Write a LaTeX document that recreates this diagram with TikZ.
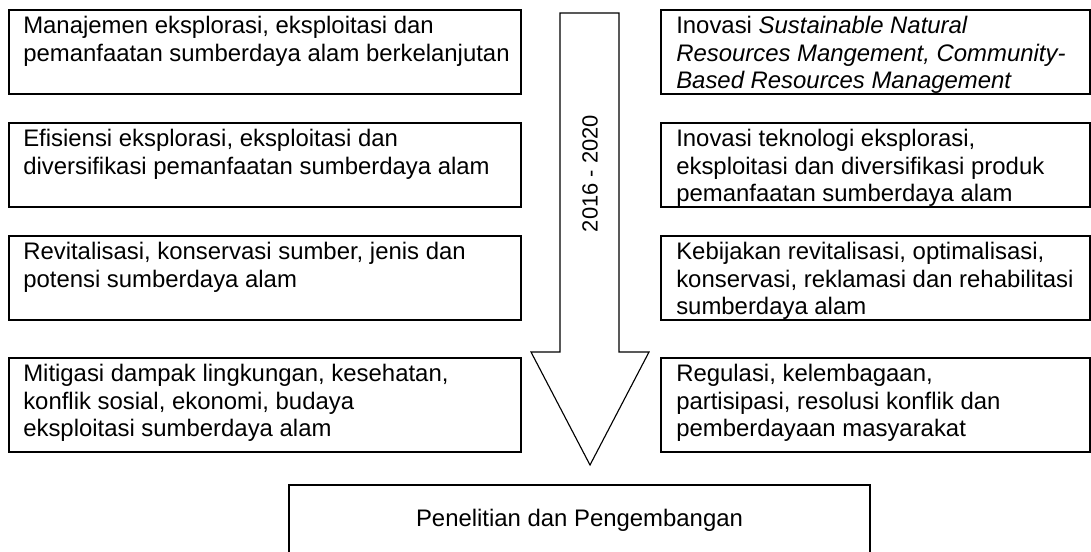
\documentclass[tikz,border=0pt]{standalone}
\usepackage{fontspec}
\setmainfont{Liberation Sans}
\begin{document}
\begin{tikzpicture}[x=0.025cm, y=-0.025cm,
    lbox/.style = {draw, line width=1.4pt, anchor=north west, inner sep=0,
                   minimum width=12.8cm, minimum height=2.1cm},
    rbox/.style = {lbox, minimum width=10.725cm},
    btext/.style = {anchor=north west, inner sep=0, align=left,
                    font=\fontsize{17}{19.5}\selectfont}]
    \useasboundingbox (0,0) rectangle (1091,552);
    % left column
    \node[lbox] (l1) at (8,9) {};
    \node[lbox] (l2) at (8,122) {};
    \node[lbox] (l3) at (8,235) {};
    \node[lbox, minimum height=2.35cm] (l4) at (8,357) {};
    \node[btext] (tl1) at ([shift={(15,7)}]l1.north west) {Manajemen eksplorasi, eksploitasi dan\\pemanfaatan sumberdaya alam berkelanjutan};
    \node[btext] (tl2) at ([shift={(15,7)}]l2.north west) {Efisiensi eksplorasi, eksploitasi dan\\diversifikasi pemanfaatan sumberdaya alam};
    \node[btext] (tl3) at ([shift={(15,7)}]l3.north west) {Revitalisasi, konservasi sumber, jenis dan\\potensi sumberdaya alam};
    \node[btext] (tl4) at ([shift={(15,7)}]l4.north west) {Mitigasi dampak lingkungan, kesehatan,\\konflik sosial, ekonomi, budaya\\eksploitasi sumberdaya alam};
    % right column
    \node[rbox] (r1) at (660,9) {};
    \node[rbox] (r2) at (660,122) {};
    \node[rbox] (r3) at (660,235) {};
    \node[rbox, minimum height=2.35cm] (r4) at (660,357) {};
    \node[btext] (tr1) at ([shift={(16,7)}]r1.north west) {Inovasi \textit{Sustainable Natural}\\\textit{Resources Mangement, Community-}\\\textit{Based Resources Management}};
    \node[btext] (tr2) at ([shift={(16,7)}]r2.north west) {Inovasi teknologi eksplorasi,\\eksploitasi dan diversifikasi produk\\pemanfaatan sumberdaya alam};
    \node[btext] (tr3) at ([shift={(16,7)}]r3.north west) {Kebijakan revitalisasi, optimalisasi,\\konservasi, reklamasi dan rehabilitasi\\sumberdaya alam};
    \node[btext] (tr4) at ([shift={(16,7)}]r4.north west) {Regulasi, kelembagaan,\\partisipasi, resolusi konflik dan\\pemberdayaan masyarakat};
    % time arrow
    \draw[line width=0.8pt] (560,13) -- (619,13) -- (619,352) -- (649,352)
        -- (590,465) -- (531,352) -- (560,352) -- cycle;
    \node[rotate=90, inner sep=0, font=\fontsize{15.6}{18}\selectfont] (yr) at (590,173.5) {2016 - 2020};
    % bottom box
    \node[draw, line width=1.4pt, minimum width=14.525cm, minimum height=1.75cm,
          font=\fontsize{17}{19.5}\selectfont] (pp) at (579.5,520) {Penelitian dan Pengembangan};
\end{tikzpicture}
\end{document}
